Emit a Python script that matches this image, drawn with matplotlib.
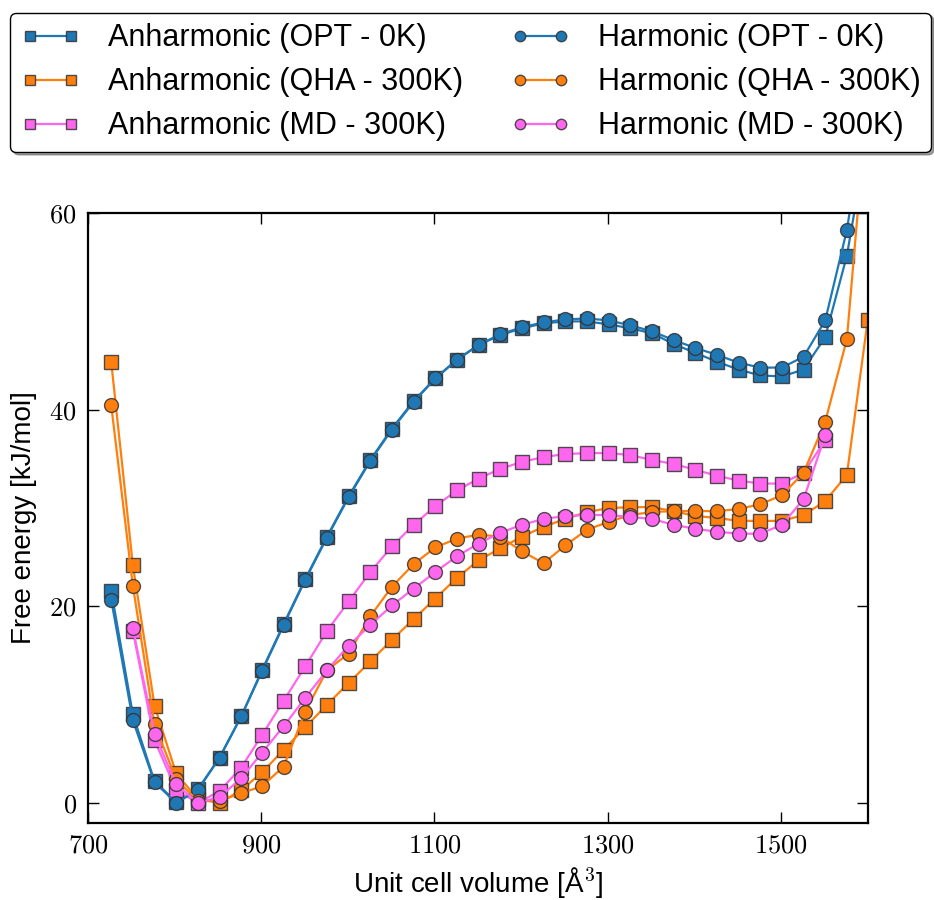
import numpy as np
import matplotlib
matplotlib.use("Agg")
import matplotlib.pyplot as plt
from matplotlib.ticker import FuncFormatter

# ---------------------------------------------------------------------------
# Data — free energy curves vs unit cell volume
# ---------------------------------------------------------------------------
volume = [727, 752, 777, 802, 827, 852, 877, 901, 926, 951, 976, 1001,
          1026, 1051, 1076, 1101, 1126, 1151, 1176, 1201, 1226, 1251, 1276,
          1301, 1326, 1351, 1376, 1401, 1426, 1451, 1476, 1501, 1526, 1551,
          1576, 1600]

anh_opt = [21.6, 9.0, 2.2, 0.1, 1.4, 4.6, 8.8, 13.5, 18.2, 22.8, 27.1, 31.2,
           34.9, 38.1, 40.9, 43.2, 45.1, 46.6, 47.6, 48.3, 48.8, 49.0, 49.0,
           48.7, 48.3, 47.8, 46.7, 45.8, 44.9, 44.1, 43.5, 43.4, 44.1, 47.4,
           55.7, 68.0]
har_opt = [20.7, 8.4, 2.1, 0.0, 1.3, 4.6, 8.8, 13.4, 18.1, 22.7, 27.0, 31.1,
           34.8, 38.0, 40.8, 43.2, 45.1, 46.6, 47.7, 48.4, 48.9, 49.2, 49.3,
           49.1, 48.6, 48.0, 47.1, 46.3, 45.6, 44.8, 44.3, 44.3, 45.4, 49.1,
           58.3, 72.0]
anh_qha = [44.9, 24.2, 9.9, 3.0, 0.4, 0.0, 1.3, 3.1, 5.4, 7.7, 10.0, 12.2,
           14.4, 16.6, 18.7, 20.8, 22.9, 24.7, 25.9, 27.1, 28.1, 28.9, 29.6,
           30.0, 30.1, 30.1, 29.7, 29.2, 29.0, 28.7, 28.7, 28.7, 29.3, 30.7,
           33.4, 49.1]
har_qha = [40.5, 22.1, 8.0, 2.4, 0.2, 0.2, 1.0, 1.7, 3.7, 9.3, 13.5, 15.2,
           19.0, 22.0, 24.3, 26.0, 26.9, 27.3, 27.1, 25.6, 24.4, 26.2, 27.8,
           28.6, 29.3, 29.6, 29.7, 29.7, 29.7, 29.9, 30.4, 31.3, 33.6, 38.8,
           47.2, 72.0]
# MD curves start at the second volume and stop at 1551
anh_md = [17.5, 6.4, 1.3, 0.0, 1.2, 3.6, 6.9, 10.4, 13.9, 17.5, 20.5, 23.5,
          26.1, 28.3, 30.2, 31.8, 33.0, 34.0, 34.7, 35.2, 35.5, 35.6, 35.6,
          35.4, 34.9, 34.5, 33.9, 33.3, 32.8, 32.5, 32.5, 33.6, 36.9]
har_md = [17.8, 7.0, 1.9, 0.0, 0.6, 2.5, 5.1, 7.8, 10.7, 13.5, 16.0, 18.1,
          20.1, 21.8, 23.5, 25.1, 26.4, 27.5, 28.3, 28.9, 29.2, 29.3, 29.3,
          29.1, 28.9, 28.3, 27.9, 27.6, 27.4, 27.4, 28.3, 30.9, 37.4]
volume_md = volume[1:34]

BLUE, ORANGE, PINK = "#1f77b4", "#ff7f0e", "#ff66ee"

plt.rcParams["font.family"] = ["Liberation Sans", "DejaVu Sans"]
plt.rcParams["mathtext.fontset"] = "cm"

fig = plt.figure(figsize=(9.34, 9.0), dpi=100)
ax = fig.add_axes([0.094, 0.086, 0.835, 0.677])

series = [
    (volume, anh_opt, BLUE, "s", "Anharmonic (OPT - 0K)"),
    (volume, anh_qha, ORANGE, "s", "Anharmonic (QHA - 300K)"),
    (volume_md, anh_md, PINK, "s", "Anharmonic (MD - 300K)"),
    (volume, har_opt, BLUE, "o", "Harmonic (OPT - 0K)"),
    (volume, har_qha, ORANGE, "o", "Harmonic (QHA - 300K)"),
    (volume_md, har_md, PINK, "o", "Harmonic (MD - 300K)"),
]
for x, y, c, m, lab in series:
    ax.plot(x, y, "-", color=c, marker=m, markersize=10, linewidth=1.6,
            markerfacecolor=c, markeredgecolor=(0.2, 0.2, 0.2, 0.85),
            markeredgewidth=1.0, label=lab)

ax.set_xlim(700, 1600)
ax.set_ylim(-2, 60)
ax.set_xticks([700, 900, 1100, 1300, 1500])
ax.set_yticks([0, 20, 40, 60])
fmt = FuncFormatter(lambda v, p: f"${v:.0f}$")
ax.xaxis.set_major_formatter(fmt)
ax.yaxis.set_major_formatter(fmt)
ax.tick_params(direction="in", length=8, width=1, top=True, right=True,
               labelsize=19, pad=8)
for s in ax.spines.values():
    s.set_linewidth(1.6)

ax.set_xlabel("Unit cell volume [Å$^3$]", fontsize=20, labelpad=5)
ax.set_ylabel("Free energy [kJ/mol]", fontsize=20, labelpad=9)

handles, labels = ax.get_legend_handles_labels()
fig.legend(handles, labels, loc="upper center", bbox_to_anchor=(0.504, 0.986),
           ncol=2, fontsize=22, numpoints=2, fancybox=True, shadow=True,
           edgecolor="black", framealpha=1, handlelength=1.95,
           columnspacing=1.55, labelspacing=0.46, borderpad=0.35,
           borderaxespad=0.0, handletextpad=0.9, markerscale=0.75)

fig.savefig("out.png", dpi=100)
